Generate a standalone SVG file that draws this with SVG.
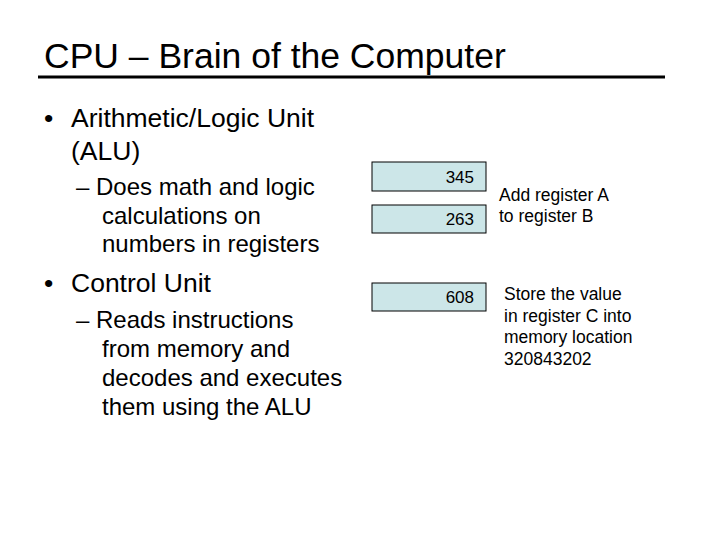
<svg xmlns="http://www.w3.org/2000/svg" width="720" height="540" viewBox="0 0 720 540">
<style>
text{font-family:"Liberation Sans",Arial,sans-serif;fill:#000}
.reg{fill:#cce6e8;stroke:#000;stroke-width:1}
.t{font-size:26.5px}.s{font-size:24px}.n{font-size:17.5px}.v{font-size:17px}
</style>
<rect width="720" height="540" fill="#fff"/>
<text x="44" y="68" font-size="35.5">CPU – Brain of the Computer</text>
<line x1="38" y1="77" x2="665" y2="77" stroke="#000" stroke-width="3"/>
<text x="44" y="127" class="t">•</text>
<text x="71" y="127" class="t">Arithmetic/Logic Unit</text>
<text x="71" y="160" class="t">(ALU)</text>
<text x="76" y="195" class="s">– Does math and logic</text>
<text x="102" y="224" class="s">calculations on</text>
<text x="102" y="252" class="s">numbers in registers</text>
<text x="44" y="292" class="t">•</text>
<text x="71" y="292" class="t">Control Unit</text>
<text x="76" y="328" class="s">– Reads instructions</text>
<text x="102" y="357" class="s">from memory and</text>
<text x="102" y="386" class="s">decodes and executes</text>
<text x="102" y="415" class="s">them using the ALU</text>
<g id="r1"><rect class="reg" x="372" y="162" width="114" height="29"/><text x="474" y="183" class="v" text-anchor="end">345</text></g>
<g id="r2"><rect class="reg" x="372" y="205" width="114" height="28"/><text x="474" y="225" class="v" text-anchor="end">263</text></g>
<g id="r3"><rect class="reg" x="372" y="283" width="114" height="28"/><text x="474" y="303" class="v" text-anchor="end">608</text></g>
<text x="499" y="201" class="n">Add register A</text>
<text x="499" y="222" class="n">to register B</text>
<text x="504" y="300" class="n">Store the value</text>
<text x="504" y="322" class="n">in register C into</text>
<text x="504" y="343" class="n">memory location</text>
<text x="504" y="365" class="n">320843202</text>
<g id="connectors"/>
</svg>
